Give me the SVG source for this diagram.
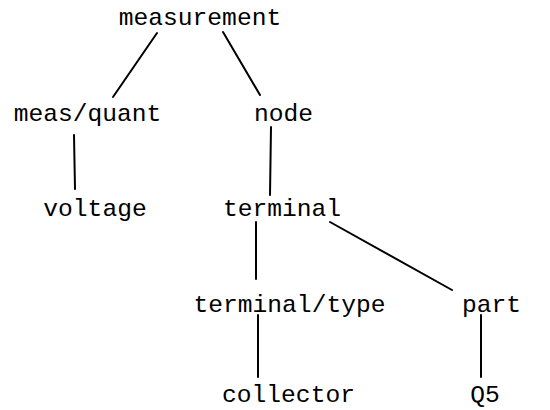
<svg xmlns="http://www.w3.org/2000/svg" width="550" height="410" viewBox="0 0 550 410">
<style>
text{font-family:"Liberation Mono","Courier New",monospace;font-size:24.6px;fill:#000;text-anchor:middle}
line{stroke:#000;stroke-width:2;stroke-linecap:round}
</style>
<rect width="550" height="410" fill="#fff"/>
<g id="connectors">
<line x1="157" y1="33" x2="113" y2="97"/>
<line x1="223" y1="32" x2="260" y2="95"/>
<line x1="74" y1="135" x2="75" y2="189"/>
<line x1="271" y1="127" x2="270" y2="195"/>
<line x1="256" y1="222" x2="256" y2="279"/>
<line x1="330" y1="222" x2="452" y2="290"/>
<line x1="258" y1="315" x2="258" y2="377"/>
<line x1="481" y1="315" x2="481" y2="377"/>
</g>
<g id="measurement"><text x="200" y="25">measurement</text></g>
<g id="measquant"><text x="87.5" y="121">meas/quant</text></g>
<g id="node"><text x="283.5" y="121">node</text></g>
<g id="voltage"><text x="95" y="216">voltage</text></g>
<g id="terminal"><text x="282" y="216">terminal</text></g>
<g id="terminaltype"><text x="289.5" y="312">terminal/type</text></g>
<g id="part"><text x="491.5" y="312">part</text></g>
<g id="collector"><text x="288.5" y="402">collector</text></g>
<g id="q5"><text x="485" y="402">Q5</text></g>
</svg>
